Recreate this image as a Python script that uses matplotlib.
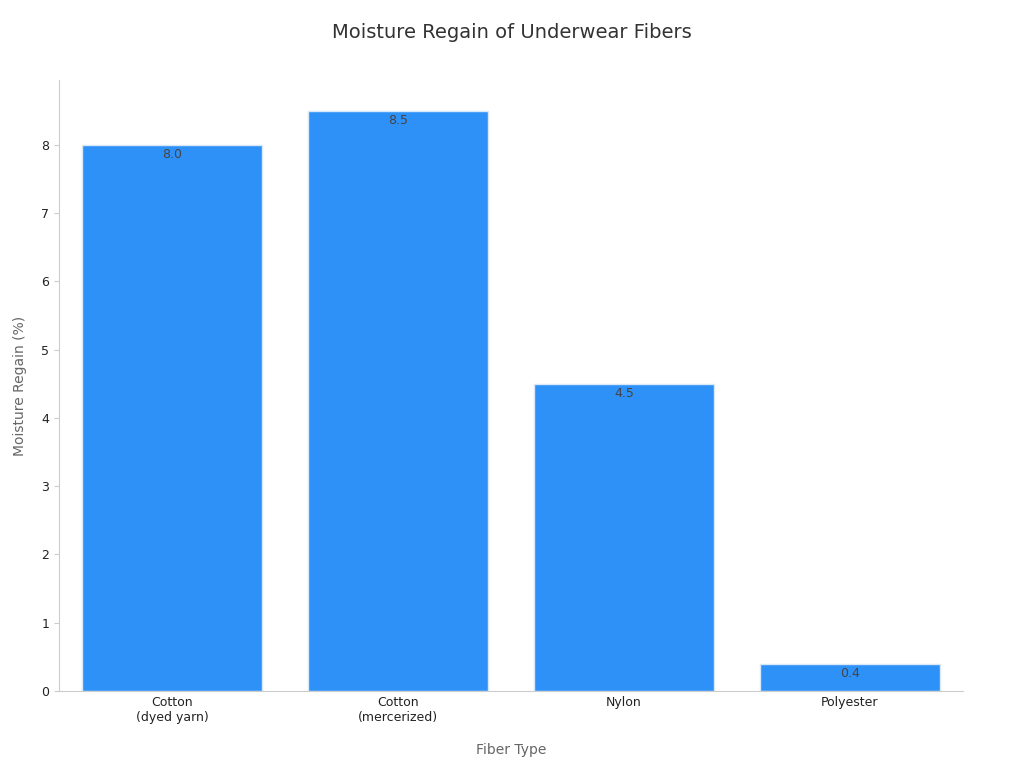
import matplotlib
matplotlib.use("Agg")
import matplotlib.pyplot as plt

categories = ["Cotton\n(dyed yarn)", "Cotton\n(mercerized)", "Nylon", "Polyester"]
values = [8.0, 8.5, 4.5, 0.4]

fig = plt.figure(figsize=(10.24, 7.68), dpi=100)
ax = fig.add_axes([59/1024, 1-691/768, 904/1024, 611/768])
x = range(len(categories))
bars = ax.bar(x, values, width=0.8, color="#2E91F8", edgecolor="#d8e8f8", linewidth=1)
for xi, v in zip(x, values):
    ax.text(xi, v - 0.05, f"{v:.1f}", ha="center", va="top", fontsize=9, color="#444444")
ax.set_xlim(-0.5, 3.5)
ax.set_ylim(0, 8.95)
ax.set_xticks(list(x))
ax.set_xticklabels(categories, fontsize=9, color="#222222")
ax.tick_params(axis="y", labelsize=9, labelcolor="#222222", color="#cccccc")
ax.tick_params(axis="x", length=0)
for s in ["top", "right"]:
    ax.spines[s].set_visible(False)
for s in ["left", "bottom"]:
    ax.spines[s].set_color("#cccccc")
ax.set_xlabel("Fiber Type", fontsize=10, color="#666666", labelpad=14)
ax.set_ylabel("Moisture Regain (%)", fontsize=10, color="#666666", labelpad=10)
fig.text(0.5, 1-33/768, "Moisture Regain of Underwear Fibers", ha="center", va="center", fontsize=14, color="#333333")
fig.savefig("out.png", dpi=100)
